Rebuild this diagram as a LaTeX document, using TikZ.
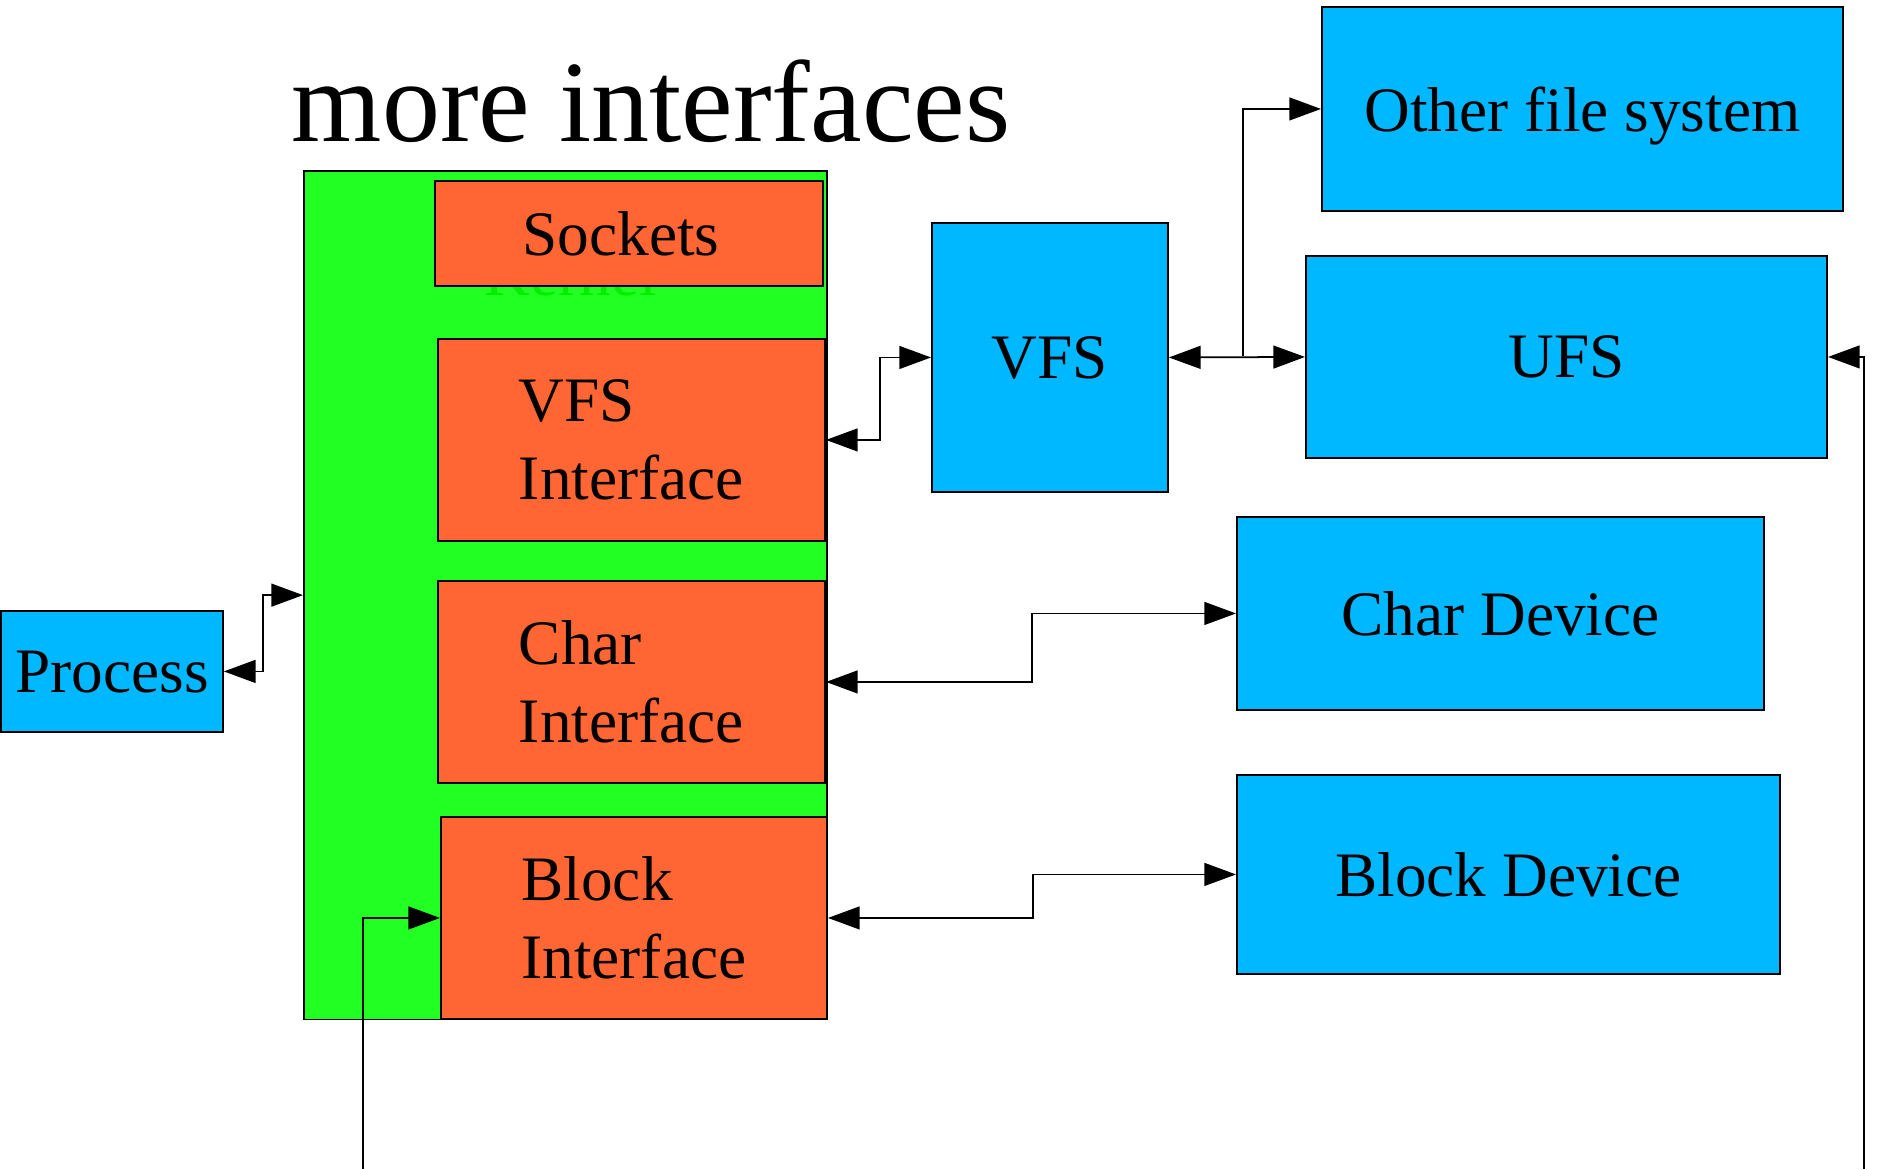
\documentclass[tikz,border=0pt]{standalone}
\usepackage{fontspec}
\setmainfont{Liberation Serif}
\usepackage{tikz}
\usetikzlibrary{arrows.meta,positioning}
\definecolor{skyblue}{HTML}{00B8FF}
\definecolor{kernelgreen}{HTML}{22FF22}
\definecolor{kerneltext}{HTML}{00F000}
\definecolor{ifaceorange}{HTML}{FF6633}

\begin{document}
\begin{tikzpicture}[x=0.01cm, y=-0.01cm,
      box/.style={draw, line width=0.5pt, inner sep=0pt, anchor=north west,
                  font=\fontsize{18}{22}\selectfont},
      dev/.style={box, fill=skyblue, text depth=0pt},
      iface/.style={box, fill=ifaceorange, text width=2.25cm, align=left},
      link/.style={line width=0.5pt, {Triangle[length=9pt,width=6.5pt]}-{Triangle[length=9pt,width=6.5pt]}},
      feed/.style={line width=0.5pt, -{Triangle[length=9pt,width=6.5pt]}}]
           \useasboundingbox (0,0) rectangle (1878,1169);
           \node [anchor=base, font=\fontsize{33}{40}\selectfont] (title) at (651,141) {more interfaces};
           \node [box, fill=kernelgreen, minimum width=5.23cm, minimum height=8.48cm] (kernel) at (303,170) {};
           \node [anchor=base, text=kerneltext, font=\fontsize{18}{22}\selectfont] (kernellabel) at (571,295) {Kernel};
           \node [box, fill=ifaceorange, minimum width=3.88cm, minimum height=1.05cm] (sockets) at (434,180) {Sockets\hspace*{0.16cm}};
           \node [iface, minimum width=3.87cm, minimum height=2.02cm] (vfsif) at (437,338) {VFS\\Interface};
           \node [iface, minimum width=3.87cm, minimum height=2.02cm] (charif) at (437,580) {Char\\Interface};
           \node [iface, minimum width=3.86cm, minimum height=2.02cm] (blockif) at (440,816) {Block\\Interface};
           \node [dev, minimum width=2.22cm, minimum height=1.21cm] (process) at (0,610) {Process};
           \node [dev, minimum width=2.36cm, minimum height=2.69cm] (vfs) at (931,222) {VFS};
           \node [dev, minimum width=5.21cm, minimum height=2.04cm] (other) at (1321,6) {Other file system};
           \node [dev, minimum width=5.21cm, minimum height=2.02cm] (ufs) at (1305,255) {UFS};
           \node [dev, minimum width=5.27cm, minimum height=1.93cm] (chardev) at (1236,516) {Char Device};
           \node [dev, minimum width=5.43cm, minimum height=1.99cm] (blockdev) at (1236,774) {Block Device};
           \coordinate (split) at (1243,356);
           \coordinate (bottomin) at (363,1169);
           \coordinate (rightin) at (1864,1169);
           \draw [link] (process.east) -- ++(39,0) |- (kernel.west);
           \draw [link] (vfsif.east) -- ++(54,0) |- (vfs.west);
           \draw [link] (vfs.east) -- (ufs.west);
           \draw [feed] (split) |- (other.west);
           \draw [link] (charif.east) -- ++(206,0) |- (chardev.west);
           \draw [link] (blockif.east) -- ++(205,0) |- (blockdev.west);
           \draw [feed] (bottomin) |- (blockif.west);
           \draw [feed] (rightin) |- (ufs.east);
      \end{tikzpicture}
\end{document}
